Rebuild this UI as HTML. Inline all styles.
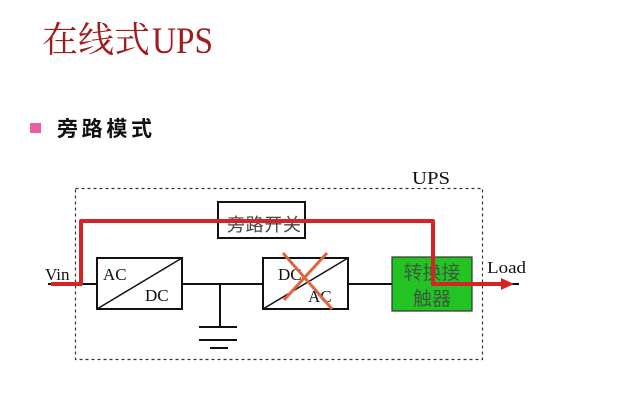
<!DOCTYPE html>
<html>
<head>
<meta charset="utf-8">
<style>
  html,body{margin:0;padding:0;background:#fff;}
  body{width:624px;height:402px;overflow:hidden;}
  svg{display:block;}
</style>
</head>
<body>
<svg width="624" height="402" viewBox="0 0 624 402" xmlns="http://www.w3.org/2000/svg">
  <rect x="0" y="0" width="624" height="402" fill="#ffffff"/>

  <!-- Title -->
  <text x="42" y="52" font-family="'Liberation Serif','Noto Serif CJK SC',serif" font-size="36" fill="#a01c1c">在线式</text>
  <text x="152" y="53" font-family="'Liberation Serif','Noto Serif CJK SC',serif" font-size="37" fill="#a01c1c" textLength="61" lengthAdjust="spacingAndGlyphs">UPS</text>

  <!-- Bullet -->
  <rect x="30" y="123" width="11" height="10" fill="#e8609e"/>
  <text x="57" y="136" font-family="'Liberation Sans','Noto Sans CJK SC',sans-serif" font-size="21" font-weight="bold" fill="#111" textLength="95" lengthAdjust="spacing">旁路模式</text>

  <!-- Dashed UPS boundary -->
  <rect x="75.5" y="188.5" width="407" height="171" fill="none" stroke="#333" stroke-width="1.2" stroke-dasharray="3,3"/>
  <text x="412" y="184" font-family="'Liberation Serif',serif" font-size="18" fill="#111" textLength="38" lengthAdjust="spacingAndGlyphs">UPS</text>

  <!-- Black main line -->
  <line x1="48" y1="284" x2="97" y2="284" stroke="#111" stroke-width="2"/>
  <line x1="182" y1="284" x2="263" y2="284" stroke="#111" stroke-width="2"/>
  <line x1="348" y1="284" x2="392" y2="284" stroke="#111" stroke-width="2"/>
  <line x1="472" y1="284" x2="519" y2="284" stroke="#111" stroke-width="2"/>

  <!-- Ground -->
  <line x1="220" y1="284" x2="220" y2="327" stroke="#111" stroke-width="2"/>
  <line x1="199" y1="327" x2="237" y2="327" stroke="#111" stroke-width="2"/>
  <line x1="199" y1="340" x2="237" y2="340" stroke="#111" stroke-width="2"/>
  <line x1="210" y1="348" x2="228" y2="348" stroke="#111" stroke-width="2"/>

  <!-- Bypass switch box -->
  <rect x="218" y="202" width="87" height="36" fill="#fff" stroke="#111" stroke-width="2"/>
  <text x="227" y="231" font-family="'Liberation Sans','Noto Sans CJK SC',sans-serif" font-size="18" fill="#444" textLength="74" lengthAdjust="spacing">旁路开关</text>

  <!-- AC/DC box -->
  <rect x="97" y="258" width="85" height="51" fill="#fff" stroke="#111" stroke-width="2"/>
  <line x1="97" y1="309" x2="182" y2="258" stroke="#111" stroke-width="1.5"/>
  <text x="103" y="280" font-family="'Liberation Serif',serif" font-size="17" fill="#111">AC</text>
  <text x="145" y="301" font-family="'Liberation Serif',serif" font-size="17" fill="#111">DC</text>

  <!-- DC/AC box -->
  <rect x="263" y="258" width="85" height="51" fill="#fff" stroke="#111" stroke-width="2"/>
  <line x1="263" y1="309" x2="348" y2="258" stroke="#111" stroke-width="1.5"/>
  <text x="278" y="280" font-family="'Liberation Serif',serif" font-size="17" fill="#111">DC</text>
  <text x="308" y="302" font-family="'Liberation Serif',serif" font-size="17" fill="#111">AC</text>
  <!-- Red X -->
  <line x1="283" y1="253" x2="332" y2="309" stroke="#e0643e" stroke-width="3"/>
  <line x1="327" y1="253" x2="284" y2="300" stroke="#e0643e" stroke-width="3"/>

  <!-- Transfer switch (green) -->
  <rect x="392" y="257" width="80" height="54" fill="#22c322" stroke="#333" stroke-width="1.2"/>
  <text x="432" y="279" text-anchor="middle" font-family="'Liberation Sans','Noto Sans CJK SC',sans-serif" font-size="19" fill="#3d5a3d">转换接</text>
  <text x="432" y="305" text-anchor="middle" font-family="'Liberation Sans','Noto Sans CJK SC',sans-serif" font-size="19" fill="#3d5a3d">触器</text>

  <!-- Red bypass path -->
  <path d="M51,284 H81 V221 H433 V284 H505" fill="none" stroke="#d42424" stroke-width="4" stroke-linejoin="round"/>
  <polygon points="501,278 514,284 501,290" fill="#d42424"/>

  <!-- Labels -->
  <text x="45" y="280" font-family="'Liberation Serif',serif" font-size="17" fill="#111">Vin</text>
  <text x="487" y="273" font-family="'Liberation Serif',serif" font-size="17" fill="#111" textLength="39" lengthAdjust="spacingAndGlyphs">Load</text>
</svg>
</body>
</html>
